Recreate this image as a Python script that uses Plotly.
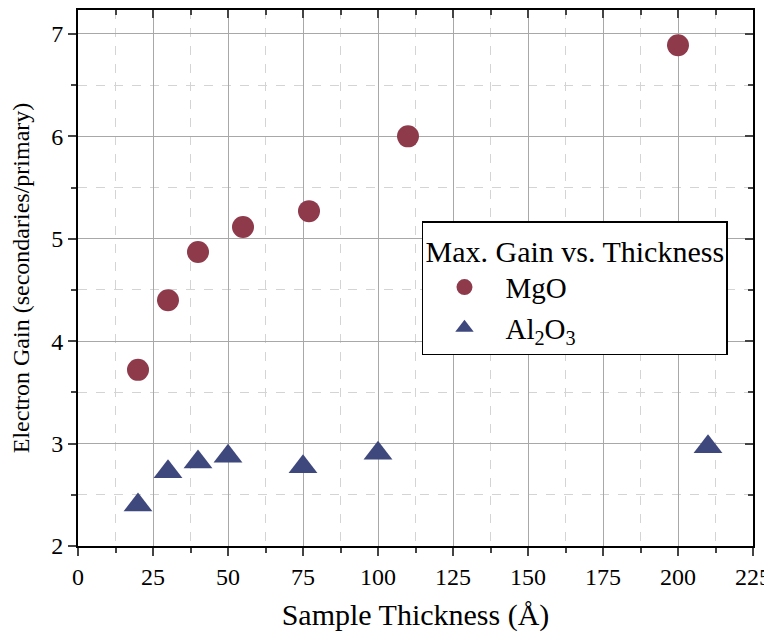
import plotly.graph_objects as go

mgo_thickness = [20, 30, 40, 55, 77, 110, 200]
mgo_gain = [3.72, 4.40, 4.87, 5.115, 5.27, 6.00, 6.89]
al_thickness = [20, 30, 40, 50, 75, 100, 210]
al_gain = [2.40, 2.725, 2.82, 2.877, 2.773, 2.905, 2.97]

x_range = [0, 225]
y_range = [2, 7.234]
FONT = "Liberation Serif"

fig = go.Figure()
fig.add_trace(go.Scatter(x=mgo_thickness, y=mgo_gain, mode="markers", name="MgO",
                         marker=dict(symbol="circle", size=22, color="#8e3a4b"), cliponaxis=False))
fig.add_trace(go.Scatter(x=al_thickness, y=al_gain, mode="markers", name="Al<sub>2</sub>O<sub>3</sub>",
                         marker=dict(symbol="triangle-up", size=25, color="#3e487d"), cliponaxis=False))

common = dict(showline=True, linecolor="black", linewidth=2, zeroline=False, automargin=False)
tickf = dict(family=FONT, size=24, color="black")
fig.update_layout(
    width=764, height=630,
    margin=dict(l=70, r=19, t=2, b=92),
    plot_bgcolor="white", paper_bgcolor="white",
    font=dict(family=FONT, size=24, color="black"),
    xaxis=dict(range=x_range, dtick=25, tick0=0, ticks="outside", ticklen=8, tickwidth=1.5,
               showgrid=True, gridcolor="#a8a8a8", gridwidth=1, ticklabeloverflow="allow",
               minor=dict(dtick=12.5, ticks="outside", ticklen=5, tickwidth=1.5, showgrid=True,
                          gridcolor="#d4d4d4", griddash="dash", gridwidth=1),
               title=dict(text="Sample Thickness (Å)", font=dict(family=FONT, size=30)),
               tickfont=tickf, **common),
    yaxis=dict(range=y_range, dtick=1, tick0=0, ticks="outside", ticklen=8, tickwidth=1.5,
               showgrid=True, gridcolor="#a8a8a8", gridwidth=1, ticklabeloverflow="allow",
               minor=dict(dtick=0.5, ticks="outside", ticklen=5, tickwidth=1.5, showgrid=True,
                          gridcolor="#d4d4d4", griddash="dash", gridwidth=1),
               title=dict(text="Electron Gain (secondaries/primary)", font=dict(family=FONT, size=24)),
               tickfont=tickf, **common),
    xaxis2=dict(range=x_range, overlaying="x", side="top", dtick=25, tick0=0, ticks="inside",
                ticklen=8, tickwidth=1.5, showticklabels=False, showgrid=False,
                minor=dict(dtick=12.5, ticks="inside", ticklen=5, tickwidth=1.5), **common),
    yaxis2=dict(range=y_range, overlaying="y", side="right", dtick=1, tick0=0, ticks="inside",
                ticklen=8, tickwidth=1.5, showticklabels=False, showgrid=False,
                minor=dict(dtick=0.5, ticks="inside", ticklen=5, tickwidth=1.5), **common),
    legend=dict(x=0.5096, y=0.606, xanchor="left", yanchor="top",
                bgcolor="white", bordercolor="black", borderwidth=1.5,
                title=dict(text="Max. Gain vs. Thickness", font=dict(family=FONT, size=30)),
                font=dict(family=FONT, size=29), itemsizing="trace", itemwidth=72),
    showlegend=True,
)
# empty trace so the mirrored (top/right) axes render
fig.add_trace(go.Scatter(x=[None], y=[None], xaxis="x2", yaxis="y2", showlegend=False, hoverinfo="skip"))

# small arrow mark outside right edge
fig.add_annotation(x=1.0165, y=0.0168, xref="paper", yref="paper", text="",
                   showarrow=True, ax=7, ay=0, arrowhead=2, arrowsize=1.3, arrowwidth=2,
                   arrowcolor="black", standoff=0)

fig.write_html("out.html")
